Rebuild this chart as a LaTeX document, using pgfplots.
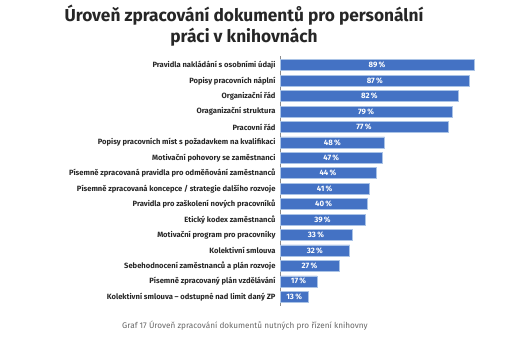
\documentclass[border=0pt]{standalone}
\usepackage{pgfplots}
\pgfplotsset{compat=1.18}
\usepackage{pgfplotstable}
\usepackage{fontspec}
\setmainfont{Fira Sans}
\definecolor{barblue}{RGB}{68,114,196}
\definecolor{baredge}{RGB}{170,195,230}
\pgfplotstableread{
i v
0 89
1 87
2 82
3 79
4 77
5 48
6 47
7 44
8 41
9 40
10 39
11 33
12 32
13 27
14 17
15 13
}\datatable
\begin{document}
\begin{tikzpicture}
\useasboundingbox (0,-343pt) rectangle (508pt,0);
\node[font=\bfseries\fontsize{17.3}{21}\selectfont, align=center, text=black!85] at (244pt,-26pt) {Úroveň zpracování dokumentů pro personální\\práci v knihovnách};
\begin{axis}[
  at={(280pt,-306pt)}, anchor=south west,
  scale only axis,
  width=218pt, height=250pt,
  xmin=0, xmax=100,
  ymin=-0.6, ymax=15.6,
  y dir=reverse,
  axis lines*=left,
  x axis line style={draw=none},
  y axis line style={draw=black!45, line width=0.8pt},
  xtick=\empty,
  ytick={0,...,15},
  major tick length=0pt,
  /pgf/number format/assume math mode=true,
  yticklabel style={font=\bfseries\fontsize{7.6}{9}\selectfont, text=black!85, xshift=-1pt},
  yticklabels={{Pravidla nakládání s osobními údaji},{Popisy pracovních náplní},{Organizační řád},{Oraganizační struktura},{Pracovní řád},{Popisy pracovních míst s požadavkem na kvalifikaci},{Motivační pohovory se zaměstnanci},{Písemně zpracovaná pravidla pro odměňování zaměstnanců},{Písemně zpracovaná koncepce / strategie dalšího rozvoje},{Pravidla pro zaškolení nových pracovníků},{Etický kodex zaměstnanců},{Motivační program pro pracovníky},{Kolektivní smlouva},{Sebehodnocení zaměstnanců a plán rozvoje},{Písemně zpracovaný plán vzdělávání},{Kolektivní smlouva – odstupné nad limit daný ZP}},
  clip=false,
]
\addplot[xbar, bar width=11pt, fill=barblue, draw=baredge, line width=0.6pt] table[x=v, y=i] {\datatable};
\addplot[only marks, mark=none,
  nodes near coords={\pgfmathprintnumber[assume math mode=true]{\pgfplotspointmeta}\,\%},
  nodes near coords style={anchor=center, text=white, font=\bfseries\fontsize{7.8}{9}\selectfont},
  point meta=explicit] table[x expr=\thisrow{v}/2, y=i, meta=v] {\datatable};
\end{axis}
\node[font=\fontsize{8.2}{9}\selectfont, text=black!60] at (245pt,-326pt) {Graf 17 Úroveň zpracování dokumentů nutných pro řízení knihovny};
\end{tikzpicture}
\end{document}
